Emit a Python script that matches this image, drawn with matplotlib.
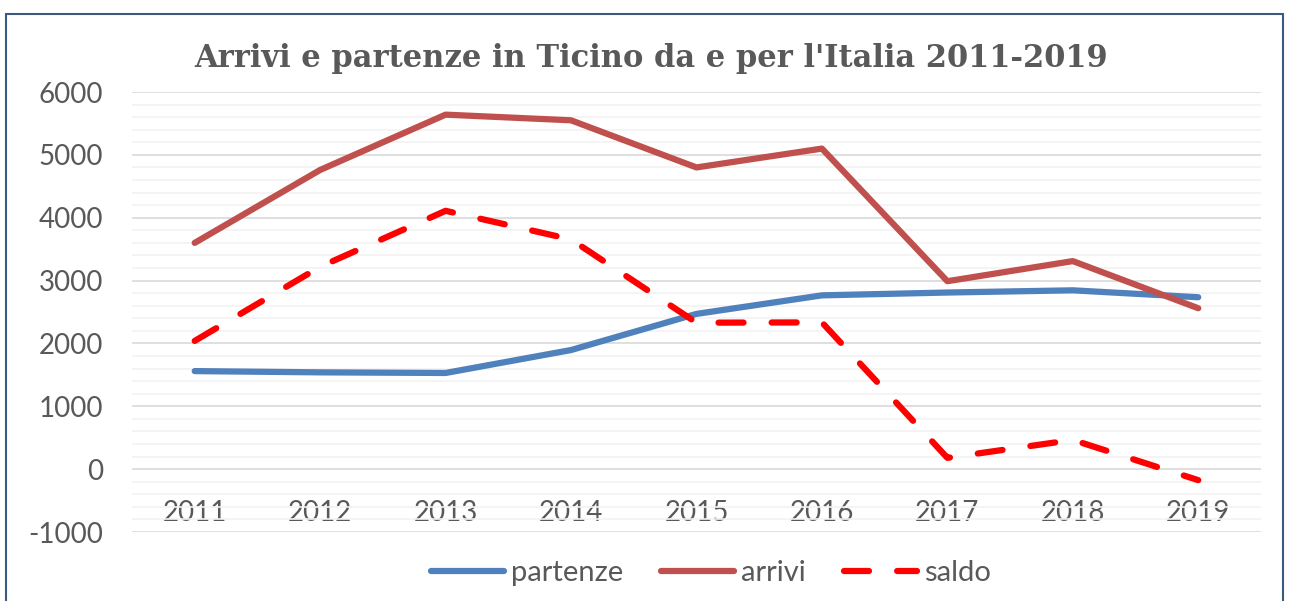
import matplotlib
matplotlib.use("Agg")
import matplotlib.pyplot as plt
from matplotlib.patches import Rectangle
from matplotlib.ticker import MultipleLocator

plt.rcParams["axes.unicode_minus"] = False

anni = ["2011", "2012", "2013", "2014", "2015", "2016", "2017", "2018", "2019"]
partenze = [1560, 1540, 1530, 1895, 2470, 2765, 2810, 2845, 2735]
arrivi = [3600, 4760, 5640, 5550, 4800, 5100, 2990, 3310, 2560]
saldo = [2040, 3220, 4110, 3655, 2330, 2335, 180, 465, -175]

grigio = "#595959"
fig = plt.figure(figsize=(12.9, 6.01), dpi=100)
ax = fig.add_axes([0.1023, 0.1148, 0.8752, 0.7321])

x = range(len(anni))
ax.plot(x, partenze, color="#4F81BD", lw=4.5, solid_capstyle="round", solid_joinstyle="round", label="partenze")
ax.plot(x, arrivi, color="#C0504D", lw=4.5, solid_capstyle="round", solid_joinstyle="round", label="arrivi")
ax.plot(x, saldo, color="#FF0000", lw=4.5, dashes=(4, 4.5), dash_capstyle="round", dash_joinstyle="round", label="saldo")

ax.set_xlim(-0.5, len(anni) - 0.5)
ax.set_ylim(-1000, 6000)
ax.yaxis.set_major_locator(MultipleLocator(1000))
ax.yaxis.set_minor_locator(MultipleLocator(200))
ax.grid(which="major", axis="y", color="#D9D9D9", lw=1.2)
ax.grid(which="minor", axis="y", color="#F2F2F2", lw=1.2)
ax.set_axisbelow(True)
for s in ax.spines.values():
    s.set_visible(False)
ax.spines["bottom"].set_position(("data", 0))

ax.set_xticks(list(x))
ax.set_xticklabels(anni)
ax.tick_params(axis="x", length=0, pad=22, labelsize=20, labelcolor=grigio)
ax.tick_params(axis="y", which="both", length=0, pad=21, labelsize=20, labelcolor=grigio)
for t in ax.get_xticklabels() + ax.get_yticklabels():
    t.set_fontfamily("Lato")

fig.text(0.505, 0.903, "Arrivi e partenze in Ticino da e per l'Italia 2011-2019",
         ha="center", va="center", fontsize=22, fontweight="bold",
         family="DejaVu Serif", color=grigio)

fig.legend(loc="center", bbox_to_anchor=(0.551, 0.047), ncol=3, frameon=False,
           prop={"family": "Lato", "size": 21}, labelcolor=grigio,
           handlelength=2.5, handletextpad=0.25, columnspacing=1.3)

fig.patches.append(Rectangle((6 / 1290, -0.05), 1277 / 1290, 1.05 - 14 / 601,
                             transform=fig.transFigure, fill=False,
                             edgecolor="#3B5A80", lw=1.5))

fig.savefig("out.png", dpi=100)
